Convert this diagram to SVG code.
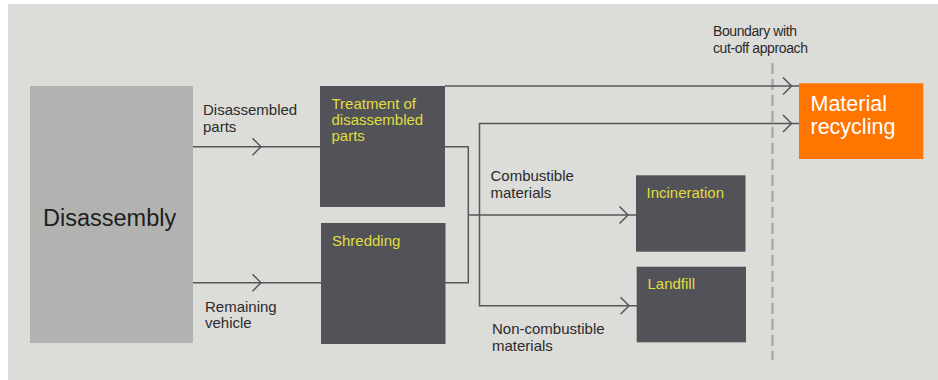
<svg xmlns="http://www.w3.org/2000/svg" xmlns:xlink="http://www.w3.org/1999/xlink" width="938" height="380" viewBox="0 0 938 380">
<style>
text{font-family:"Liberation Sans",Arial,sans-serif}
.lbl{font-size:15px;fill:#2b2b2b}
.ylw{font-size:15px;fill:#e2dd3e}
.dark{fill:#515358}
.ln{fill:none;stroke:#555759;stroke-width:1.5}
.chev{fill:none;stroke:#555759;stroke-width:1.5}
.big{font-size:21.5px;fill:#ffffff}
</style>
<defs>
<path id="chev" class="chev" d="M-8.5,-8.5 L0,0 L-8.5,8.5"/>
</defs>
<rect x="0" y="0" width="938" height="380" fill="#ffffff"/>
<rect x="8" y="4" width="930" height="376" fill="#dcdcd9"/>

<g id="boundary">
<line x1="772.5" y1="63" x2="772.5" y2="360" stroke="#ababab" stroke-width="2.5" stroke-dasharray="11,5"/>
<text class="lbl" x="713" y="36" style="font-size:14px;letter-spacing:-0.4px">Boundary with</text>
<text class="lbl" x="713" y="52.5" style="font-size:14px;letter-spacing:-0.4px">cut-off approach</text>
</g>

<g id="connectors">
<line class="ln" x1="193" y1="146.7" x2="320" y2="146.7"/>
<line class="ln" x1="193" y1="282.7" x2="321" y2="282.7"/>
<path class="ln" d="M445,146.7 H468.3 V282.7 H445"/>
<line class="ln" x1="445" y1="86" x2="799" y2="86"/>
<path class="ln" d="M799,123.5 H479.5 V305.7 H637"/>
<line class="ln" x1="468.3" y1="215" x2="636" y2="215"/>
<use xlink:href="#chev" x="261" y="146.7"/>
<use xlink:href="#chev" x="261" y="282.7"/>
<use xlink:href="#chev" x="791.5" y="86"/>
<use xlink:href="#chev" x="791.5" y="123.5"/>
<use xlink:href="#chev" x="628" y="215"/>
<use xlink:href="#chev" x="629" y="305.7"/>
<text class="lbl" x="203" y="115">Disassembled</text>
<text class="lbl" x="203" y="131.5">parts</text>
<text class="lbl" x="205" y="311.5">Remaining</text>
<text class="lbl" x="205" y="328">vehicle</text>
<text class="lbl" x="490.5" y="181">Combustible</text>
<text class="lbl" x="490.5" y="197.5">materials</text>
<text class="lbl" x="492" y="333.5">Non-combustible</text>
<text class="lbl" x="492" y="350.5">materials</text>
</g>

<g id="disassembly">
<rect x="30" y="86" width="163" height="257" fill="#b2b3b1"/>
<text x="43" y="226" style="font-size:23.5px;fill:#1e1e1e">Disassembly</text>
</g>

<g id="treatment">
<rect class="dark" x="320" y="86" width="125" height="121"/>
<text class="ylw" x="331.5" y="109.3">Treatment of</text>
<text class="ylw" x="331.5" y="125">disassembled</text>
<text class="ylw" x="331.5" y="140.7">parts</text>
</g>

<g id="shredding">
<rect class="dark" x="321" y="223" width="124.5" height="121"/>
<text class="ylw" x="332" y="246">Shredding</text>
</g>

<g id="incineration">
<rect class="dark" x="636" y="175.3" width="109.5" height="76.4"/>
<text class="ylw" x="646.5" y="198.3">Incineration</text>
</g>

<g id="landfill">
<rect class="dark" x="636.7" y="266.7" width="109.3" height="75.6"/>
<text class="ylw" x="647.5" y="289.3">Landfill</text>
</g>

<g id="recycling">
<rect x="799" y="83.3" width="124.3" height="75.7" fill="#ff7500"/>
<text class="big" x="810.5" y="111">Material</text>
<text class="big" x="810.5" y="134">recycling</text>
</g>
</svg>
